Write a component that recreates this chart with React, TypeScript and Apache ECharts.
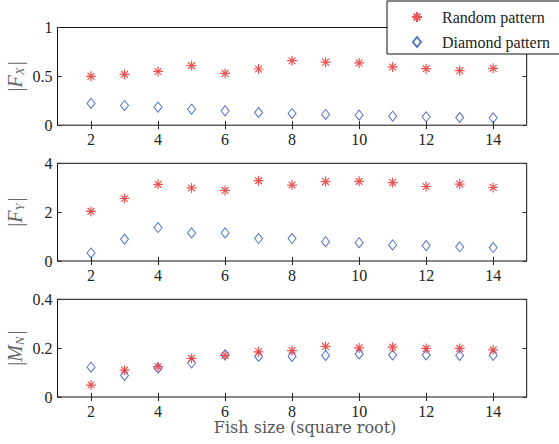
import React, { useEffect, useRef } from "react";
import * as echarts from "echarts";

const fishSize = [2, 3, 4, 5, 6, 7, 8, 9, 10, 11, 12, 13, 14];
const xTicks = [2, 4, 6, 8, 10, 12, 14];

const fxRandom = [0.5, 0.52, 0.55, 0.61, 0.53, 0.575, 0.66, 0.645, 0.637, 0.596, 0.579, 0.558, 0.582];
const fxDiamond = [0.223, 0.202, 0.185, 0.164, 0.147, 0.13, 0.12, 0.11, 0.103, 0.092, 0.086, 0.079, 0.075];

const fyRandom = [2.03, 2.56, 3.14, 2.99, 2.89, 3.29, 3.11, 3.25, 3.26, 3.21, 3.05, 3.15, 3.01];
const fyDiamond = [0.33, 0.89, 1.37, 1.15, 1.15, 0.92, 0.92, 0.79, 0.75, 0.66, 0.63, 0.58, 0.55];

const mnRandom = [0.049, 0.11, 0.124, 0.158, 0.17, 0.185, 0.19, 0.207, 0.201, 0.204, 0.199, 0.199, 0.193];
const mnDiamond = [0.122, 0.088, 0.118, 0.139, 0.173, 0.166, 0.166, 0.17, 0.176, 0.172, 0.172, 0.17, 0.17];

const panels = [
  { random: fxRandom, diamond: fxDiamond, max: 1, interval: 0.5, sym: "X", letter: "F" },
  { random: fyRandom, diamond: fyDiamond, max: 4, interval: 2, sym: "Y", letter: "F" },
  { random: mnRandom, diamond: mnDiamond, max: 0.4, interval: 0.2, sym: "N", letter: "M" },
];

const RED = "#e82a2a";
const BLUE = "#2b4db8";
const STAR = "path://M5,0L5,10M0,5L10,5M1.6,1.6L8.4,8.4M1.6,8.4L8.4,1.6";
const DIAMOND = "path://M4,0L8,5L4,10L0,5Z";
const SERIF = "Liberation Serif, serif";

export default function App() {
  const ref = useRef<HTMLDivElement>(null);
  useEffect(() => {
    if (!ref.current) return;
    const chart = echarts.init(ref.current, null, { renderer: "svg" });
    const tops = [27.5, 163.3, 299.3];
    const height = 97.7;
    const grid = tops.map((t) => ({
      left: 57.5,
      right: 32.3,
      top: t,
      height,
      show: true,
      containLabel: false,
      outerBoundsMode: "none",
      borderColor: "#111",
      borderWidth: 1,
      backgroundColor: "transparent",
    }));
    const tickStyle = { show: true, inside: true, length: 4, lineStyle: { color: "#222", width: 1 } };
    const xAxis: any[] = [];
    const yAxis: any[] = [];
    panels.forEach((p, i) => {
      xAxis.push({
        type: "value",
        gridIndex: i,
        min: 1,
        max: 15,
        position: "bottom",
        axisLine: { show: false },
        splitLine: { show: false },
        axisTick: { ...tickStyle, customValues: xTicks },
        axisLabel: {
          customValues: xTicks,
          fontFamily: SERIF,
          fontSize: 16,
          color: "#222",
          margin: 6,
        },
        name: i === 2 ? "Fish size (square root)" : "",
        nameLocation: "middle",
        nameGap: 12,
        nameTextStyle: {
          fontFamily: "DejaVu Serif",
          fontSize: 16,
          color: "#555",
          padding: [0, 0, 0, 26],
        },
      });
      yAxis.push({
        type: "value",
        gridIndex: i,
        min: 0,
        max: p.max,
        interval: p.interval,
        position: "left",
        axisLine: { show: false },
        splitLine: { show: false },
        axisTick: tickStyle,
        axisLabel: { fontFamily: SERIF, fontSize: 16, color: "#222", margin: 5 },
        name: `{n||}{i|${p.letter}}{s|${p.sym}}{n||}`,
        nameLocation: "middle",
        nameRotate: 90,
        nameGap: 32,
        nameMoveOverlap: false,
        nameTextStyle: {
          rich: {
            n: { fontFamily: SERIF, fontSize: 20, color: "#666", lineHeight: 22 },
            i: { fontFamily: SERIF, fontSize: 20, fontStyle: "italic", color: "#666", lineHeight: 22 },
            s: {
              fontFamily: SERIF,
              fontSize: 13,
              fontStyle: "italic",
              color: "#666",
              lineHeight: 22,
              verticalAlign: "bottom",
              padding: [6, 2, 0, 0],
            },
          },
        },
      });
    });
    panels.forEach((p, i) => {
      xAxis.push({
        type: "value",
        gridIndex: i,
        min: 1,
        max: 15,
        position: "top",
        axisLine: { show: false },
        splitLine: { show: false },
        axisTick: { ...tickStyle, customValues: xTicks },
        axisLabel: { show: false },
      });
      yAxis.push({
        type: "value",
        gridIndex: i,
        min: 0,
        max: p.max,
        interval: p.interval,
        position: "right",
        axisLine: { show: false },
        splitLine: { show: false },
        axisTick: tickStyle,
        axisLabel: { show: false },
      });
    });
    const series: any[] = [];
    panels.forEach((p, i) => {
      series.push({
        name: "Diamond pattern",
        type: "scatter",
        xAxisIndex: i,
        yAxisIndex: i,
        symbol: DIAMOND,
        symbolSize: [8, 10],
        itemStyle: { color: "rgba(255,255,255,0)", borderColor: BLUE, borderWidth: 1 },
        data: fishSize.map((x, k) => [x, p.diamond[k]]),
      });
      series.push({
        name: "Random pattern",
        type: "scatter",
        xAxisIndex: i,
        yAxisIndex: i,
        symbol: STAR,
        symbolSize: 10,
        itemStyle: { color: RED, borderColor: RED, borderWidth: 1.2 },
        data: fishSize.map((x, k) => [x, p.random[k]]),
      });
    });
    chart.setOption({
      animation: false,
      textStyle: { fontFamily: SERIF },
      grid,
      xAxis,
      yAxis,
      series,
      legend: {
        data: ["Random pattern", "Diamond pattern"],
        orient: "vertical",
        left: 387,
        top: 1,
        padding: [8, 30, 4, 24],
        itemGap: 9,
        itemWidth: 14,
        itemHeight: 10,
        backgroundColor: "#fff",
        borderColor: "#111",
        borderWidth: 1,
        borderRadius: 0,
        textStyle: { fontFamily: SERIF, fontSize: 16, color: "#222", padding: [0, 0, 0, 13], lineHeight: 16 },
      },
    });
    return () => chart.dispose();
  }, []);
  return <div ref={ref} style={{ width: 559, height: 444, position: "absolute", left: 0, top: 0 }} />;
}
